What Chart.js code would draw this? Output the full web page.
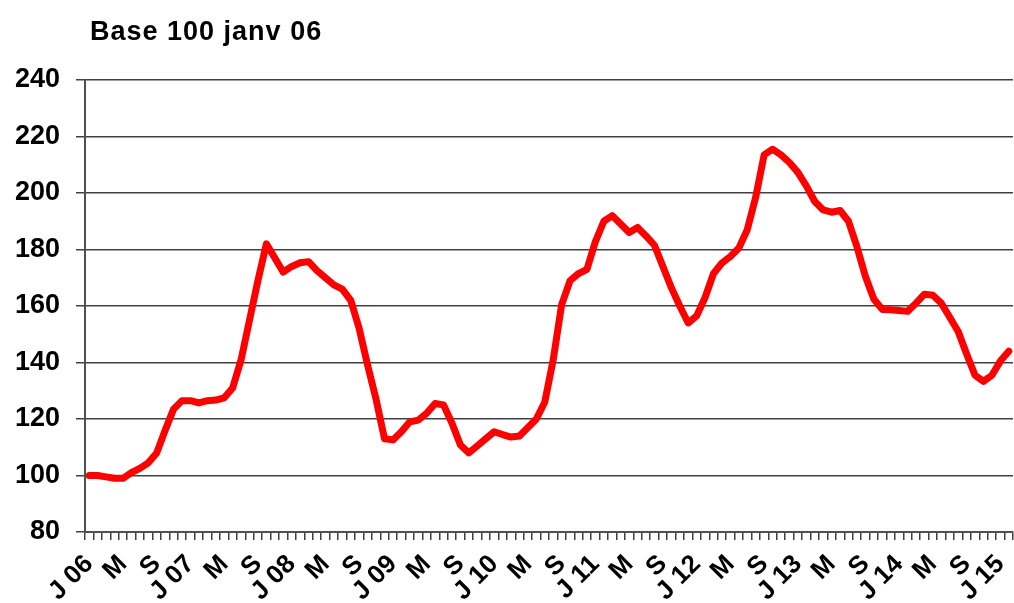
<!DOCTYPE html>
<html lang="fr">
<head>
  <meta charset="UTF-8">
  <title>Base 100 janv 06</title>
  <script src="https://cdn.jsdelivr.net/npm/chart.js"></script>
  <style>
    html, body { margin: 0; padding: 0; background: #fff; overflow: hidden; }
    #wrap { position: absolute; left: 0; top: 0; width: 1014px; height: 640px; }
    #title {
      position: absolute; left: 90px; top: 18px;
      font: bold 27px "Liberation Sans", Arial, sans-serif;
      line-height: 1; letter-spacing: 1px; color: #000;
    }
  </style>
</head>
<body>
  <div id="wrap"><canvas id="chart"></canvas></div>
  <div id="title">Base 100 janv 06</div>

  <script>
    // indice mensuel, base 100 en janvier 2006
    const v2006 = [100, 100, 99.5, 99, 99, 101, 102.5, 104.5, 108, 116, 123.5, 126.5];
    const v2007 = [126.5, 125.7, 126.5, 126.7, 127.5, 131, 141, 155, 169, 182, 177, 172];
    const v2008 = [174, 175.3, 175.7, 172.5, 170, 167.5, 166, 162, 152, 139, 127, 113];
    const v2009 = [112.6, 115.5, 119, 119.6, 122, 125.5, 125, 118.5, 110.8, 108, 110.5, 113];
    const v2010 = [115.5, 114.5, 113.6, 114, 117, 120, 126, 141, 160.5, 169, 171.5, 173];
    const v2011 = [182.8, 190, 192, 189, 186, 187.8, 184.8, 181.5, 174, 166.5, 160, 154];
    const v2012 = [156.5, 163, 171.5, 175.2, 177.5, 180.5, 187, 198.5, 213.5, 215.5, 213.5, 210.8];
    const v2013 = [207.3, 202.5, 197, 194, 193.2, 193.8, 190, 181, 170.5, 162.5, 158.8, 158.7];
    const v2014 = [158.4, 158.1, 161, 164.2, 163.8, 161, 156, 151, 143, 135.5, 133.3, 135.5];
    const v2015 = [140.5, 144];

    const values = [].concat(v2006, v2007, v2008, v2009, v2010, v2011, v2012, v2013, v2014, v2015);

    // un libellé tous les 4 mois
    const tickLabels = ['J 06', 'M', 'S', 'J 07', 'M', 'S', 'J 08', 'M', 'S', 'J 09', 'M', 'S',
      'J 10', 'M', 'S', 'J 11', 'M', 'S', 'J 12', 'M', 'S', 'J 13', 'M', 'S', 'J 14', 'M', 'S', 'J 15'];

    const months = values.map((v, i) => (2006 + Math.floor(i / 12)) + '-' + String(i % 12 + 1).padStart(2, '0'));

    const axisFont = { family: '"Liberation Sans", Arial, sans-serif', weight: 'bold' };

    new Chart(document.getElementById('chart'), {
      type: 'line',
      data: {
        labels: months,
        datasets: [{
          data: values,
          borderColor: '#ff0000',
          borderWidth: 7,
          borderJoinStyle: 'round',
          borderCapStyle: 'round',
          pointRadius: 0,
          tension: 0,
          fill: false
        }]
      },
      options: {
        responsive: true,
        maintainAspectRatio: false,
        animation: false,
        layout: { padding: { left: 0, right: 1, top: 80, bottom: 0 } },
        plugins: { legend: { display: false }, tooltip: { enabled: false } },
        scales: {
          x: {
            offset: true,
            afterFit: s => { s.paddingLeft = 0; s.paddingRight = 0; s.height = 108; },
            grid: { offset: true, drawOnChartArea: false, drawTicks: true, tickLength: 8, color: '#404040', lineWidth: 1.5 },
            border: { color: '#505050', width: 2 },
            ticks: {
              autoSkip: false, maxRotation: 45, minRotation: 45, padding: 9, color: '#000',
              font: { ...axisFont, size: 26 },
              callback: (val, i) => i % 4 === 0 ? tickLabels[i / 4] : ''
            }
          },
          y: {
            min: 80, max: 240,
            afterFit: s => { s.width = 85; },
            ticks: { stepSize: 20, padding: 16, color: '#000', font: { ...axisFont, size: 27 } },
            grid: { color: '#404040', lineWidth: 1.5, tickLength: 9 },
            border: { color: '#505050', width: 2 }
          }
        }
      }
    });
  </script>
</body>
</html>
